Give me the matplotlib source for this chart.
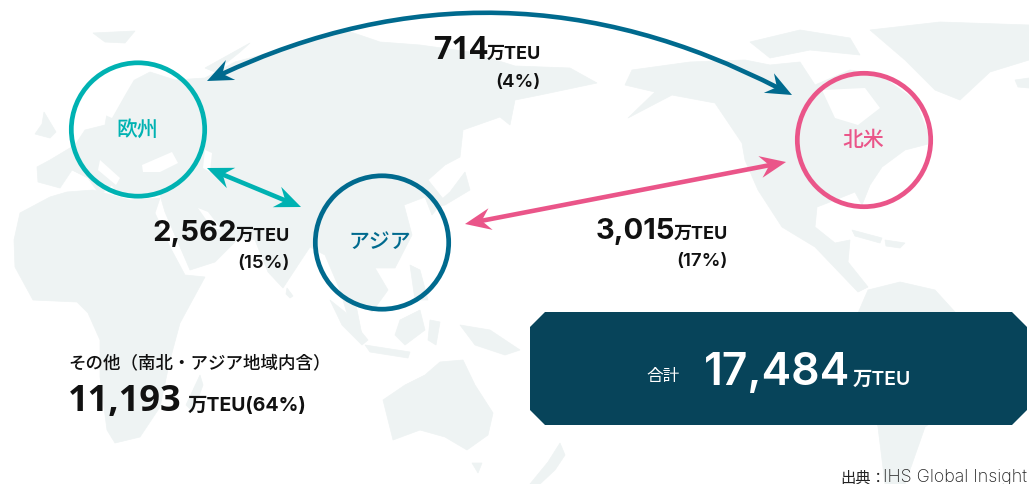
import matplotlib
matplotlib.use("Agg")
import matplotlib.pyplot as plt
from matplotlib.patches import Polygon, Circle, PathPatch
from matplotlib.path import Path

LATIN = ['Inter', 'Noto Sans CJK JP', 'DejaVu Sans']
WIDE1 = ['Open Sans', 'Noto Sans CJK JP', 'DejaVu Sans']   # equal-width "1" for values holding that digit
CJK = ['Noto Sans CJK JP', 'DejaVu Sans']
plt.rcParams['font.family'] = LATIN

regions = ['欧州', 'アジア', '北米']
flow_values = ['714', '2,562', '3,015']
flow_shares = ['(4%)', '(15%)', '(17%)']
other_label = 'その他（南北・アジア地域内含）'
other_value = '11,193'
other_suffix = '万TEU(64%)'
total_label = '合計'
total_value = '17,484'
unit = '万TEU'
source_head = '出典：'
source_name = 'IHS Global Insight'

TEAL, BLUE, PINK = '#00b2b2', '#006a8e', '#ea5589'
LAND, NAVY, INK = '#eef3f3', '#07445a', '#111111'

land_polys = [
    # Africa
    [(50,197),(20,213),(14,240),(15,267),(33,300),(77,302),(88,313),(100,340),(100,377),(107,430),(115,443),
     (140,437),(160,407),(170,360),(180,323),(205,277),(185,275),(170,247),(155,213),(160,198),(130,200),(93,190),(67,192)],
    # Eurasia
    [(37,167),(38,182),(60,188),(72,170),(88,178),(100,195),(112,185),(118,195),(160,195),(165,212),(190,270),(215,262),
     (240,237),(255,240),(268,272),(283,288),(300,262),(310,247),(325,255),(340,290),(352,330),(362,335),(355,300),
     (372,312),(388,290),(375,268),(395,268),(412,235),(404,205),(425,197),(432,215),(444,200),(428,180),(445,165),
     (460,157),(463,130),(500,117),(510,125),(515,100),(540,95),(597,83),(570,68),(515,66),(470,52),(420,45),(380,42),
     (345,30),(290,47),(235,62),(205,78),(175,80),(150,72),(125,85),(108,108),(105,125),(85,130),(75,145),(50,160)],
    # Great Britain and Ireland
    [(44,112),(56,132),(50,138),(35,134),(42,124)],
    # Svalbard
    [(93,33),(135,31),(125,43),(105,42)],
    # Novaya Zemlya
    [(205,68),(250,43),(240,52),(215,72)],
    # Madagascar
    [(200,375),(203,385),(193,412),(186,405)],
    # Sri Lanka
    [(287,288),(293,296),(290,298),(286,294)],
    # Sumatra
    [(330,300),(345,312),(368,340),(362,345),(342,325)],
    # Borneo
    [(400,320),(420,310),(425,330),(405,345),(395,335)],
    # Java
    [(365,345),(410,352),(408,358),(370,352)],
    # Sulawesi
    [(430,320),(440,322),(436,345),(428,340)],
    # Philippines
    [(410,265),(420,270),(428,300),(415,300)],
    # New Guinea
    [(460,325),(490,330),(520,350),(505,355),(475,345)],
    # Japan
    [(465,172),(470,190),(445,205),(432,208),(450,192)],
    # Australia
    [(383,400),(405,385),(425,375),(440,362),(463,360),(475,385),(493,413),(488,435),(467,450),(445,437),(420,430),(393,440)],
    # Tasmania
    [(472,463),(482,463),(478,473)],
    # New Zealand
    [(560,443),(565,455),(555,470),(540,484),(530,484),(548,462)],
    # Alaska + North America + Central America
    [(632,70),(690,62),(745,60),(770,65),(800,62),(815,85),(850,70),(880,75),(915,100),(932,143),(905,150),(882,167),
     (870,185),(862,205),(855,192),(835,200),(817,207),(815,227),(835,243),(850,240),(848,262),(868,287),(858,292),
     (815,247),(782,227),(758,190),(745,160),(742,143),(715,103),(672,95),(628,118),(655,92),(625,85)],
    # South America
    [(868,290),(900,282),(935,290),(955,312),(1000,335),(985,385),(925,427),(905,484),(885,484),(878,427),(860,360),(855,320)],
    # Greenland
    [(870,30),(940,22),(1029,25),(1029,60),(990,72),(960,100),(935,90),(905,60)],
    # Iceland
    [(1015,80),(1029,78),(1029,88),(1018,87)],
    # Arctic islands
    [(750,42),(800,30),(850,38),(860,55),(810,50),(770,58)],
    # Caribbean
    [(852,230),(882,238),(880,243),(855,236)],
    [(885,240),(905,243),(900,248),(886,246)],
]
# inland seas and bays drawn in the page colour
water_polys = [
    [(112,85),(135,78),(125,95),(112,118),(105,115),(108,100)],     # Baltic
    [(142,165),(172,152),(178,163),(160,172),(143,172)],            # Black Sea
    [(205,150),(212,153),(210,172),(203,168)],                      # Caspian
    [(198,208),(208,212),(222,230),(212,228)],                      # Persian Gulf
    [(822,90),(865,88),(880,108),(858,125),(835,118)],              # Hudson Bay
    [(100,160),(120,178),(116,185),(98,170)],                       # Adriatic
]

circles = [(138, 129.5, TEAL), (382, 242.5, BLUE), (864, 140, PINK)]

fig = plt.figure(figsize=(10.29, 4.84), dpi=100)
ax = fig.add_axes([0, 0, 1, 1])
ax.set_xlim(0, 1029)
ax.set_ylim(484, 0)
ax.axis('off')

for p in land_polys:
    ax.add_patch(Polygon(p, closed=True, fc=LAND, ec=LAND, lw=0.5, zorder=1))
for p in water_polys:
    ax.add_patch(Polygon(p, closed=True, fc='white', ec='none', zorder=2))

for (cx, cy, col), name, (tx, ty) in zip(circles, regions, [(137, 130), (380, 242), (863, 140)]):
    ax.add_patch(Circle((cx, cy), 66.7, fc='none', ec=col, lw=3.4, zorder=3))
    ax.text(tx, ty, name, color=col, fontsize=15, fontweight='medium', family=CJK,
            ha='center', va='center', zorder=5)


def head(tip, dx, dy, col):
    """Swept arrow head at tip; (dx, dy) is a unit vector pointing forward."""
    nx, ny = -dy, dx
    L, W, N = 26, 11, 17
    pts = [tip,
           (tip[0] - L*dx + W*nx, tip[1] - L*dy + W*ny),
           (tip[0] - N*dx, tip[1] - N*dy),
           (tip[0] - L*dx - W*nx, tip[1] - L*dy - W*ny)]
    ax.add_patch(Polygon(pts, closed=True, fc=col, ec='none', zorder=4))


def unitv(a, b):
    d = ((b[0]-a[0])**2 + (b[1]-a[1])**2) ** 0.5
    return (b[0]-a[0])/d, (b[1]-a[1])/d


def straight(a, b, col):
    ux, uy = unitv(a, b)
    ax.plot([a[0]+ux*14, b[0]-ux*14], [a[1]+uy*14, b[1]-uy*14], color=col, lw=3.3,
            solid_capstyle='butt', zorder=4)
    head(b, ux, uy, col)
    head(a, -ux, -uy, col)


straight((207, 168), (301, 207), TEAL)
straight((465, 224), (786, 162), PINK)

# curved flow between Europe and North America
A, C, B = (207, 81), (500, -56), (792, 95)
ua = unitv(A, C)
ub = unitv(C, B)
A2 = (A[0]+ua[0]*14, A[1]+ua[1]*14)
B2 = (B[0]-ub[0]*14, B[1]-ub[1]*14)
ax.add_patch(PathPatch(Path([A2, C, B2], [Path.MOVETO, Path.CURVE3, Path.CURVE3]),
                       fc='none', ec=BLUE, lw=3.3, zorder=4))
head(A, -ua[0], -ua[1], BLUE)
head(B, ub[0], ub[1], BLUE)


def flow(xr, base, value, share, share_base, fam=LATIN, size=21):
    t = ax.text(xr, base, unit, fontsize=13, fontweight='bold', color=INK, ha='right',
                va='baseline', zorder=6)
    fig.canvas.draw()
    left = ax.transData.inverted().transform(t.get_window_extent().get_points())[0][0]
    ax.text(left + 1, base, value, fontsize=size, fontweight='bold', color=INK, ha='right',
            va='baseline', family=fam, zorder=6)
    ax.text(xr, share_base, share, fontsize=13.5, fontweight='semibold', color=INK, ha='right',
            va='baseline', zorder=6)


flow(541, 59, flow_values[0], flow_shares[0], 87, fam=WIDE1, size=23)
flow(290, 241, flow_values[1], flow_shares[1], 268)
flow(728, 239, flow_values[2], flow_shares[2], 266)

ax.text(68, 363, other_label, fontsize=12.6, fontweight='medium', color=INK, family=CJK,
        ha='left', va='center', zorder=6)
ax.text(68, 411, other_value, fontsize=26, fontweight='bold', color=INK, ha='left',
        va='baseline', family=WIDE1, zorder=6)
ax.text(188, 411, other_suffix, fontsize=14, fontweight='bold', color=INK, ha='left',
        va='baseline', zorder=6)

# total box with cut corners
bx0, bx1, by0, by1, c = 530, 1027, 312, 425, 15
ax.add_patch(Polygon([(bx0+c, by0), (bx1-c, by0), (bx1, by0+c), (bx1, by1-c), (bx1-c, by1),
                      (bx0+c, by1), (bx0, by1-c), (bx0, by0+c)], closed=True, fc=NAVY, ec='none', zorder=5))
ax.text(663, 377, total_label, fontsize=12, color='white', family=CJK, ha='center', va='center', zorder=6)
ax.text(704, 385, total_value, fontsize=32, fontweight='semibold', color='white', ha='left', va='baseline', zorder=6)
ax.text(853, 385, unit, fontsize=14, fontweight='semibold', color='white', ha='left', va='baseline', zorder=6)

ax.text(840, 482, source_head, fontsize=11, color='#222222', family=CJK, ha='left', va='baseline', zorder=6)
ax.text(1027, 482, source_name, fontsize=12.8, fontweight='light', color='#222222', ha='right', va='baseline', zorder=6)

fig.savefig('out.png', dpi=100, facecolor='white')
